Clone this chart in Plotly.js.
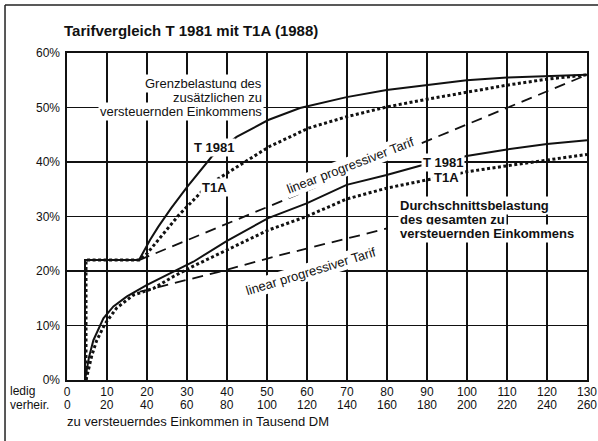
<!DOCTYPE html>
<html>
<head>
<meta charset="utf-8">
<script src="https://cdn.plot.ly/plotly-3.0.1.min.js"></script>
<style>html,body{margin:0;padding:0;background:#fff;}#chart{width:598px;height:441px;}</style>
</head>
<body>
<div id="chart"></div>
<script>
// ---- data (x in thousand DM, single taxpayer "ledig"; y in %) ----
const tickLedig = [0,10,20,30,40,50,60,70,80,90,100,110,120,130];
const tickLedigText = ['0','10','20','30','40','50','60','70','80','90','100','110','120','130'];
const tickVerheirText = ['0','20','40','60','80','100','120','140','160','180','200','220','240','260'];
const yTicks = [0,10,20,30,40,50,60];
const yTickText = ['0%','10%','20%','30%','40%','50%','60%'];

// Grenzbelastung (marginal rate)
const grenzT1981X = [4.5, 4.5, 18, 20.75, 22.8, 26, 30, 36.2, 42.4, 50.3, 58.25, 69.9, 79.9, 89.9, 99.9, 110, 120, 130];
const grenzT1981Y = [0, 22, 22, 25.7, 28.1, 31.5, 35.4, 41.0, 44.6, 47.7, 49.9, 51.9, 53.2, 54.1, 55.0, 55.5, 55.8, 56.0];
const grenzT1AX = [4.75, 4.75, 18, 20, 24.5, 28, 31.6, 35, 40.75, 46.6, 50.75, 55.75, 60.3, 69.9, 79.9, 89.9, 99.9, 110, 120, 130];
const grenzT1AY = [0, 22, 22, 23.2, 27.2, 30.3, 33.0, 35.6, 38.3, 41.0, 42.9, 44.6, 46.2, 48.3, 50.1, 51.5, 52.8, 54.1, 55.2, 56.0];
const grenzLinX = [18, 130];
const grenzLinY = [22, 56];

// Durchschnittsbelastung (average rate)
const durchT1981X = [4.5, 5.5, 6.6, 9.1, 11.6, 14.9, 19.9, 26.6, 31.6, 39.9, 50.3, 59.9, 69.9, 79.9, 88.25, 99.9, 110, 120, 130];
const durchT1981Y = [0, 4.2, 7.3, 11.3, 13.5, 15.3, 17.4, 19.9, 21.7, 25.5, 29.7, 32.4, 35.8, 37.6, 39.3, 41.1, 42.3, 43.3, 44.0];
const durchT1AX = [4.75, 6.2, 7.4, 9.5, 12.4, 16.6, 21.6, 26.6, 31.6, 37.4, 39.9, 50.3, 59.9, 69.9, 79.9, 88.25, 99.9, 110, 120, 130];
const durchT1AY = [0, 4.5, 7.2, 10.3, 13.2, 15.6, 16.8, 19.0, 20.9, 22.9, 23.8, 27.5, 30.0, 33.2, 35.2, 36.4, 38.2, 39.3, 40.4, 41.4];
const durchLinX = [18.25, 28.25, 38.25, 53.25, 73.25, 80];
const durchLinY = [16.2, 18.0, 19.9, 22.9, 26.6, 27.8];

// ---- chart ----
const FONT = 'Liberation Sans, Arial, Helvetica, sans-serif';
const solid = {color:'#111', width:2};
const dotted = {color:'#111', width:3, dash:'3px,2.5px'};
const dashed = {color:'#111', width:1.8, dash:'11px,7px'};

const traces = [
  {x: grenzT1981X, y: grenzT1981Y, mode:'lines', line: solid},
  {x: grenzT1AX, y: grenzT1AY, mode:'lines', line: dotted},
  {x: grenzLinX, y: grenzLinY, mode:'lines', line: dashed},
  {x: durchT1981X, y: durchT1981Y, mode:'lines', line: solid},
  {x: durchT1AX, y: durchT1AY, mode:'lines', line: dotted},
  {x: durchLinX, y: durchLinY, mode:'lines', line: dashed}
];

const txt = (text, x, y, opts) => Object.assign({
  text: text, x: x, y: y, xref:'x', yref:'y', showarrow:false,
  font:{family:FONT, size:13, color:'#111'}, bgcolor:'#fff', borderpad:1
}, opts || {});
const ptxt = (text, x, y, size, opts) => Object.assign({
  text: text, x: x, y: y, xref:'paper', yref:'paper', xanchor:'left', yanchor:'middle',
  showarrow:false, font:{family:FONT, size:size, color:'#111'}
}, opts || {});

const annotations = [
  ptxt('<b>Tarifvergleich T 1981 mit T1A (1988)</b>', -0.0096, 1.0703, 15),
  txt('Grenzbelastung des', 49.25, 54.4, {xanchor:'right'}),
  txt('zusätzlichen zu', 49.25, 51.83, {xanchor:'right'}),
  txt('versteuernden Einkommens', 49.25, 49.27, {xanchor:'right'}),
  txt('<b>T 1981</b>', 36.75, 42.6),
  txt('<b>T1A</b>', 36.9, 35.4),
  txt('<b>T 1981</b>', 94.1, 40.0),
  txt('<b>T1A</b>', 94.75, 37.2),
  txt('linear progressiver Tarif', 70.75, 39.3, {textangle:-21}),
  txt('linear progressiver Tarif', 60.75, 20.0, {textangle:-17}),
  txt('<b>Durchschnittsbelastung</b>', 82.75, 32.1, {xanchor:'left'}),
  txt('<b>des gesamten zu</b>', 82.75, 29.45, {xanchor:'left'}),
  txt('<b>versteuernden Einkommens</b>', 82.75, 26.9, {xanchor:'left'}),
  ptxt('ledig', -0.1135, -0.0336, 12),
  ptxt('verheir.', -0.1135, -0.0765, 12),
  ptxt('zu versteuerndes Einkommen in Tausend DM', -0.004, -0.128, 13)
];
tickLedig.forEach((v, i) => {
  annotations.push({text: tickVerheirText[i], x: v, y: -0.0765, xref:'x', yref:'paper', xanchor:'center', yanchor:'middle', showarrow:false, font:{family:FONT, size:12, color:'#111'}});
});

const axisCommon = {
  showgrid:true, gridcolor:'#111', gridwidth:1.3,
  showline:true, mirror:true, linecolor:'#111', linewidth:1.6,
  zeroline:false, ticks:'', fixedrange:true,
  tickfont:{family:FONT, size:12, color:'#111'}
};

const layout = {
  width:598, height:441,
  margin:{l:67, r:11, t:53, b:61},
  paper_bgcolor:'#fff', plot_bgcolor:'#fff',
  showlegend:false,
  xaxis: Object.assign({}, axisCommon, {range:[0,130], tickvals:tickLedig, ticktext:tickLedigText}),
  yaxis: Object.assign({}, axisCommon, {range:[0,60], tickvals:yTicks, ticktext:yTickText, ticklabelstandoff:3}),
  annotations: annotations,
  shapes: [
    {type:'line', xref:'paper', yref:'paper', x0:-0.1192, x1:1.03, y0:1.1468, y1:1.1468, line:{color:'#222', width:1.5}},
    {type:'line', xref:'paper', yref:'paper', x0:-0.1192, x1:-0.1192, y0:1.1468, y1:-0.19, line:{color:'#222', width:1.5}}
  ]
};

Plotly.newPlot('chart', traces, layout, {displayModeBar:false, staticPlot:true});
</script>
</body>
</html>
